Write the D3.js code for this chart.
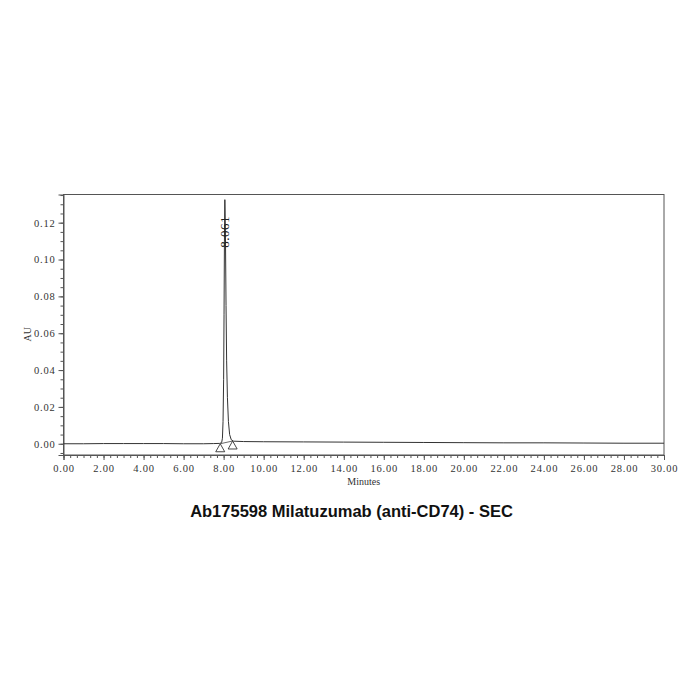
<!DOCTYPE html>
<html>
<head>
<meta charset="utf-8">
<script src="https://cdn.jsdelivr.net/npm/d3@7"></script>
<style>
  body { margin: 0; background: #fff; }
  svg { display: block; }
</style>
</head>
<body>
<div id="chart"><svg></svg></div>
<script>
// chromatogram trace (minutes / AU)
const times = [0.00, 1.00, 2.00, 3.00, 4.00, 5.00, 6.00, 7.00, 7.50, 7.80, 7.90, 7.94, 7.97, 8.00, 8.02, 8.04, 8.061,
  8.09, 8.12, 8.15, 8.19, 8.24, 8.30, 8.38, 8.50, 9.00, 10.00, 12.00, 14.00, 16.00, 18.00, 20.00, 22.00, 24.00, 26.00, 28.00, 30.00]
const absorbance = [0.0000, 0.0000, 0.0001, 0.0001, 0.0001, 0.0001, 0.0000, 0.0000, 0.0001, 0.0002, 0.0006, 0.0030, 0.0120, 0.0350, 0.0700, 0.1100, 0.1325,
  0.1150, 0.0750, 0.0450, 0.0250, 0.0120, 0.0050, 0.0022, 0.0014, 0.0012, 0.0011, 0.0010, 0.0009, 0.0008, 0.0007, 0.0006, 0.0005, 0.0005, 0.0004, 0.0003, 0.0003]

// integration start / end marks and peak label
const markTimes = [7.83, 8.45]
const markValues = [0.0000, 0.0015]
const peakTime = 8.061
const peakValue = 0.1325

const xTicks = [0, 2, 4, 6, 8, 10, 12, 14, 16, 18, 20, 22, 24, 26, 28, 30]
const yTicks = [0.00, 0.02, 0.04, 0.06, 0.08, 0.10, 0.12]

const title = 'Ab175598 Milatuzumab (anti-CD74) - SEC'

const margin = { top: 194.5, right: 36, bottom: 245, left: 63.5 },
  width = 700 - margin.left - margin.right,
  height = 700 - margin.top - margin.bottom

const svg = d3.select('#chart svg').attr('width', 700).attr('height', 700)
const g = svg.append('g').attr('transform', 'translate(' + margin.left + ',' + margin.top + ')')

const x = d3.scaleLinear().domain([0, 30]).range([0, width])
const y = d3.scaleLinear().domain([-0.0061, 0.1353]).range([height, 0])

const tickFont = '"Liberation Serif", "DejaVu Serif", serif'

// frame
g.append('rect')
  .attr('width', width).attr('height', height)
  .attr('fill', 'none').attr('stroke', '#555').attr('stroke-width', 1)

// x axis, majors labelled, 5 minors between
const xMinor = d3.range(0, 30 + 1e-9, 1 / 3)
g.append('g').attr('transform', 'translate(0,' + height + ')')
  .call(d3.axisBottom(x).tickValues(xMinor).tickSize(3).tickFormat(''))
  .call(s => s.select('.domain').remove())
const xAxis = g.append('g').attr('transform', 'translate(0,' + height + ')')
  .call(d3.axisBottom(x).tickValues(xTicks).tickSize(5).tickPadding(5).tickFormat(d3.format('.2f')))
xAxis.select('.domain').attr('stroke', '#555')
xAxis.selectAll('text').attr('font-family', tickFont).attr('font-size', 10.5).attr('letter-spacing', 0.8).attr('fill', '#333')

// y axis, minor every 0.005
const yMinor = d3.range(-0.005, 0.1351, 0.005)
g.append('g')
  .call(d3.axisLeft(y).tickValues(yMinor).tickSize(3).tickFormat(''))
  .call(s => s.select('.domain').remove())
const yAxis = g.append('g')
  .call(d3.axisLeft(y).tickValues(yTicks).tickSize(5).tickPadding(3).tickFormat(d3.format('.2f')))
yAxis.select('.domain').attr('stroke', '#555')
yAxis.selectAll('text').attr('font-family', tickFont).attr('font-size', 10.5).attr('letter-spacing', 0.8).attr('fill', '#333')
g.selectAll('.tick line').attr('stroke', '#555')

// axis titles
g.append('text')
  .attr('transform', 'translate(' + (-33) + ',' + (y(0.06) + 1) + ') rotate(-90)')
  .attr('text-anchor', 'middle').attr('font-family', tickFont).attr('font-size', 10).attr('fill', '#333')
  .text('AU')
g.append('text')
  .attr('x', x(15)).attr('y', height + 30)
  .attr('text-anchor', 'middle').attr('font-family', tickFont).attr('font-size', 10).attr('fill', '#333')
  .text('Minutes')

// trace
const points = times.map((t, i) => ({ x: t, y: absorbance[i] }))
const line = d3.line().x(d => x(d.x)).y(d => y(d.y))
g.append('path')
  .datum(points)
  .attr('fill', 'none')
  .attr('stroke', '#333')
  .attr('stroke-width', 1)
  .attr('stroke-linejoin', 'round')
  .attr('d', line)

// drop baseline between marks
g.append('line')
  .attr('x1', x(markTimes[0])).attr('y1', y(markValues[0]))
  .attr('x2', x(markTimes[1])).attr('y2', y(markValues[1]))
  .attr('stroke', '#444').attr('stroke-width', 0.8)

// integration triangles
g.selectAll('.mark')
  .data(markTimes)
  .enter().append('path')
  .attr('class', 'mark')
  .attr('d', (d, i) => {
    const cx = x(d), cy = y(markValues[i])
    return 'M' + cx + ',' + cy + 'L' + (cx - 4.5) + ',' + (cy + 8) + 'L' + (cx + 4.5) + ',' + (cy + 8) + 'Z'
  })
  .attr('fill', '#fff').attr('stroke', '#333').attr('stroke-width', 0.9)

// peak retention time label
g.append('text')
  .attr('transform', 'translate(' + (x(peakTime) + 4) + ',' + (y(peakValue) + 48) + ') rotate(-90)')
  .attr('font-family', tickFont).attr('font-size', 13).attr('letter-spacing', 0.5).attr('fill', '#222')
  .text(d3.format('.3f')(peakTime))

// chart title
svg.append('text')
  .attr('x', 351.5).attr('y', 517)
  .attr('text-anchor', 'middle')
  .attr('font-family', '"Liberation Sans", Arial, sans-serif')
  .attr('font-weight', 'bold').attr('font-size', 16.5).attr('fill', '#111')
  .text(title)
</script>
</body>
</html>
